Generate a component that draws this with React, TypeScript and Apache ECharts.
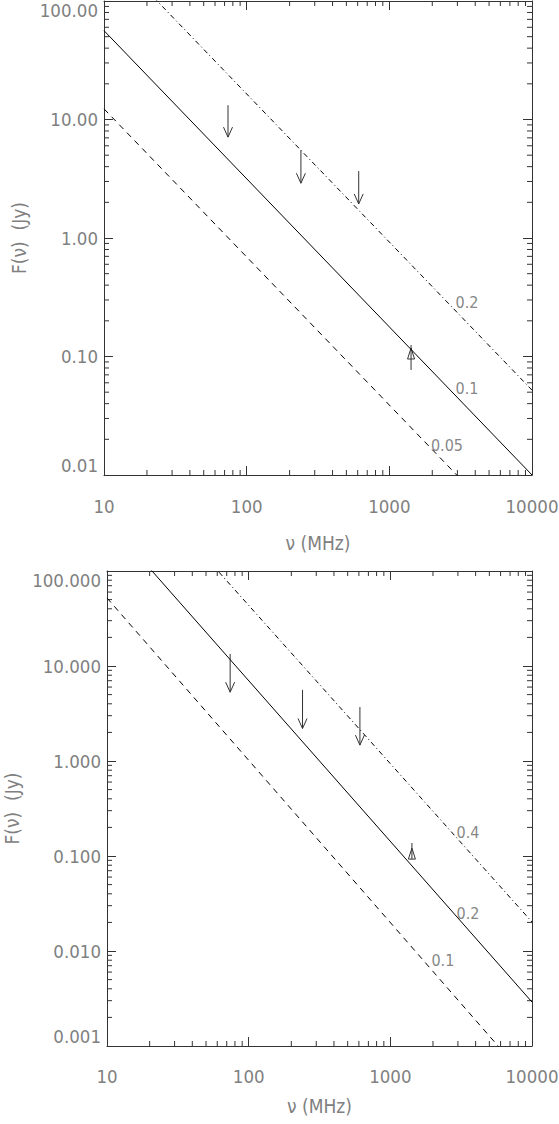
import React, { useEffect, useRef } from "react";
import * as echarts from "echarts";

// ---------- data ----------
const NU_RANGE = [10, 10000];
const TOP_F_RANGE = [0.01, 100];
const BOT_F_RANGE = [0.001, 100];

const nuMinorTicks = [20, 30, 40, 50, 60, 70, 80, 90, 200, 300, 400, 500, 600, 700, 800, 900, 2000, 3000, 4000, 5000, 6000, 7000, 8000, 9000];
const topFMinorTicks = [0.02, 0.03, 0.04, 0.05, 0.06, 0.07, 0.08, 0.09, 0.2, 0.3, 0.4, 0.5, 0.6, 0.7, 0.8, 0.9, 2, 3, 4, 5, 6, 7, 8, 9, 20, 30, 40, 50, 60, 70, 80, 90];
const botFMinorTicks = [0.002, 0.003, 0.004, 0.005, 0.006, 0.007, 0.008, 0.009, ...topFMinorTicks];

// model lines: flux at nu = 10 and nu = 10000 MHz
const lineNu = [10, 10000];
const topSolid = [56.2, 0.01];      // 0.1
const topDashed = [12.3, 0.00219];  // 0.05
const topDashDot = [292, 0.052];    // 0.2
const botSolid = [345, 0.0029];     // 0.2
const botDashed = [52, 0.00039];    // 0.1
const botDashDot = [2020, 0.0202];  // 0.4

// upper limits
const limitNu = [74, 240, 610];
const topLimitFrom = [13.2, 5.5, 3.67];
const topLimitTo = [7.1, 2.9, 1.94];
const botLimitFrom = [13.4, 5.6, 3.7];
const botLimitTo = [5.3, 2.2, 1.47];

// detection
const detNu = [1420];
const topDet = [0.106];
const topDetLo = [0.077];
const topDetHi = [0.125];
const botDet = [0.106];
const botDetLo = [0.093];
const botDetHi = [0.137];

// line labels
const topLabelText = ["0.2", "0.1", "0.05"];
const topLabelNu = [3500, 3500, 2535];
const topLabelF = [0.283, 0.0532, 0.0179];
const botLabelText = ["0.4", "0.2", "0.1"];
const botLabelNu = [3530, 3530, 2350];
const botLabelF = [0.175, 0.0251, 0.00804];

// ---------- styles ----------
const FONT = "'Liberation Sans Narrow', 'DejaVu Sans Condensed', 'Liberation Sans', sans-serif";
const AXIS_COLOR = "#333";
const TEXT_COLOR = "#808080";
const TICK_FONT = 18.5;
const TITLE_FONT = 19;

function makeGridAxes(gridIndex: number, fRange: number[], digits: number, yNameGap: number, xLabelMargin: number, xNameGap: number) {
  const common = {
    type: "log" as const,
    logBase: 10,
    gridIndex,
    splitLine: { show: false },
    axisLine: { show: true, lineStyle: { color: AXIS_COLOR, width: 1 } },
    axisTick: { show: true, inside: true, length: 9, lineStyle: { color: AXIS_COLOR, width: 1 } },
    minorTick: { show: false },
  };
  const xAxes = [
    {
      ...common,
      position: "bottom",
      min: NU_RANGE[0],
      max: NU_RANGE[1],
      axisLabel: {
        show: true,
        margin: xLabelMargin,
        fontFamily: FONT,
        fontSize: TICK_FONT,
        color: TEXT_COLOR,
        formatter: (v: number) => String(Math.round(v)),
      },
      name: "ν (MHz)",
      nameLocation: "middle",
      nameGap: xNameGap,
      nameTextStyle: { fontFamily: FONT, fontSize: TITLE_FONT, color: TEXT_COLOR },
    },
    {
      ...common,
      position: "top",
      min: NU_RANGE[0],
      max: NU_RANGE[1],
      axisLabel: { show: false },
    },
  ];
  const yAxes = [
    {
      ...common,
      position: "left",
      min: fRange[0],
      max: fRange[1],
      axisLabel: {
        show: true,
        margin: 6,
        fontFamily: FONT,
        fontSize: TICK_FONT,
        color: TEXT_COLOR,
        verticalAlignMinLabel: "bottom",
        verticalAlignMaxLabel: "top",
        formatter: (v: number) => v.toFixed(digits),
      },
      name: "F(ν)  (Jy)",
      nameLocation: "middle",
      nameGap: yNameGap,
      nameTextStyle: { fontFamily: FONT, fontSize: TITLE_FONT, color: TEXT_COLOR },
    },
    {
      ...common,
      position: "right",
      min: fRange[0],
      max: fRange[1],
      axisLabel: { show: false },
    },
  ];
  return { xAxes, yAxes };
}

function minorTickSeries(xi: number, yi: number, fRange: number[], fMinor: number[]) {
  const xTicks = {
    type: "custom",
    xAxisIndex: xi,
    yAxisIndex: yi,
    silent: true,
    data: nuMinorTicks.map((v) => [v, fRange[0]]),
    encode: { x: 0, y: 1 },
    renderItem: (_p: any, api: any) => {
      const v = api.value(0);
      const b = api.coord([v, fRange[0]]);
      const t = api.coord([v, fRange[1]]);
      return {
        type: "group",
        children: [
          { type: "line", shape: { x1: b[0], y1: b[1], x2: b[0], y2: b[1] - 5 }, style: { stroke: AXIS_COLOR, lineWidth: 1 } },
          { type: "line", shape: { x1: t[0], y1: t[1], x2: t[0], y2: t[1] + 5 }, style: { stroke: AXIS_COLOR, lineWidth: 1 } },
        ],
      };
    },
  };
  const yTicks = {
    type: "custom",
    xAxisIndex: xi,
    yAxisIndex: yi,
    silent: true,
    data: fMinor.map((v) => [NU_RANGE[0], v]),
    encode: { x: 0, y: 1 },
    renderItem: (_p: any, api: any) => {
      const v = api.value(1);
      const l = api.coord([NU_RANGE[0], v]);
      const r = api.coord([NU_RANGE[1], v]);
      return {
        type: "group",
        children: [
          { type: "line", shape: { x1: l[0], y1: l[1], x2: l[0] + 5, y2: l[1] }, style: { stroke: AXIS_COLOR, lineWidth: 1 } },
          { type: "line", shape: { x1: r[0], y1: r[1], x2: r[0] - 5, y2: r[1] }, style: { stroke: AXIS_COLOR, lineWidth: 1 } },
        ],
      };
    },
  };
  return [xTicks, yTicks];
}

function lineSeries(xi: number, yi: number, vals: number[], type: any) {
  return {
    type: "line",
    xAxisIndex: xi,
    yAxisIndex: yi,
    data: lineNu.map((n, i) => [n, vals[i]]),
    showSymbol: false,
    symbol: "none",
    clip: true,
    silent: true,
    lineStyle: { color: "#000", width: 1, type },
  };
}

function limitSeries(xi: number, yi: number, from: number[], to: number[]) {
  return {
    type: "custom",
    xAxisIndex: xi,
    yAxisIndex: yi,
    silent: true,
    data: limitNu.map((n, i) => [n, from[i], to[i]]),
    encode: { x: 0, y: [1, 2] },
    renderItem: (_p: any, api: any) => {
      const a = api.coord([api.value(0), api.value(1)]);
      const b = api.coord([api.value(0), api.value(2)]);
      const st = { stroke: "#333", lineWidth: 1, fill: "none" };
      return {
        type: "group",
        children: [
          { type: "line", shape: { x1: a[0], y1: a[1], x2: b[0], y2: b[1] }, style: st },
          { type: "polyline", shape: { points: [[b[0] - 4.5, b[1] - 10], [b[0], b[1]], [b[0] + 4.5, b[1] - 10]] }, style: st },
        ],
      };
    },
  };
}

function detSeries(xi: number, yi: number, f: number[], lo: number[], hi: number[]) {
  return {
    type: "custom",
    xAxisIndex: xi,
    yAxisIndex: yi,
    silent: true,
    data: detNu.map((n, i) => [n, f[i], lo[i], hi[i]]),
    encode: { x: 0, y: [1, 2, 3] },
    renderItem: (_p: any, api: any) => {
      const c = api.coord([api.value(0), api.value(1)]);
      const l = api.coord([api.value(0), api.value(2)]);
      const h = api.coord([api.value(0), api.value(3)]);
      const st = { stroke: "#333", lineWidth: 1, fill: "none" };
      return {
        type: "group",
        children: [
          { type: "line", shape: { x1: h[0], y1: h[1], x2: l[0], y2: l[1] }, style: st },
          { type: "polygon", shape: { points: [[c[0], c[1] - 5.5], [c[0] - 3.5, c[1] + 5.5], [c[0] + 3.5, c[1] + 5.5]] }, style: st },
        ],
      };
    },
  };
}

function labelSeries(xi: number, yi: number, text: string[], nu: number[], f: number[]) {
  return {
    type: "scatter",
    xAxisIndex: xi,
    yAxisIndex: yi,
    silent: true,
    symbolSize: 0.1,
    itemStyle: { color: "rgba(0,0,0,0)" },
    data: text.map((t, i) => ({ name: t, value: [nu[i], f[i]] })),
    label: {
      show: true,
      position: "inside",
      formatter: "{b}",
      fontFamily: FONT,
      fontSize: 16,
      color: "#666",
    },
  };
}

export default function App() {
  const ref = useRef<HTMLDivElement>(null);
  useEffect(() => {
    if (!ref.current) return;
    const chart = echarts.init(ref.current, null, { renderer: "svg" });
    const g0 = makeGridAxes(0, TOP_F_RANGE, 2, 76, 22, 58);
    const g1 = makeGridAxes(1, BOT_F_RANGE, 3, 81, 21, 50);
    chart.setOption({
      animation: false,
      backgroundColor: "#fff",
      grid: [
        { left: 104, top: 1, width: 428, height: 474, outerBoundsMode: "none", containLabel: false },
        { left: 107, top: 571, width: 425, height: 475, outerBoundsMode: "none", containLabel: false },
      ],
      xAxis: [...g0.xAxes, ...g1.xAxes],
      yAxis: [...g0.yAxes, ...g1.yAxes],
      series: [
        ...minorTickSeries(0, 0, TOP_F_RANGE, topFMinorTicks),
        lineSeries(0, 0, topSolid, "solid"),
        lineSeries(0, 0, topDashed, [6, 5]),
        lineSeries(0, 0, topDashDot, [5, 3, 1, 3]),
        limitSeries(0, 0, topLimitFrom, topLimitTo),
        detSeries(0, 0, topDet, topDetLo, topDetHi),
        labelSeries(0, 0, topLabelText, topLabelNu, topLabelF),
        ...minorTickSeries(2, 2, BOT_F_RANGE, botFMinorTicks),
        lineSeries(2, 2, botSolid, "solid"),
        lineSeries(2, 2, botDashed, [6, 5]),
        lineSeries(2, 2, botDashDot, [5, 3, 1, 3]),
        limitSeries(2, 2, botLimitFrom, botLimitTo),
        detSeries(2, 2, botDet, botDetLo, botDetHi),
        labelSeries(2, 2, botLabelText, botLabelNu, botLabelF),
      ],
    });
    return () => chart.dispose();
  }, []);
  return <div ref={ref} style={{ position: "absolute", left: 0, top: 0, width: 559, height: 1124, background: "#fff" }} />;
}
